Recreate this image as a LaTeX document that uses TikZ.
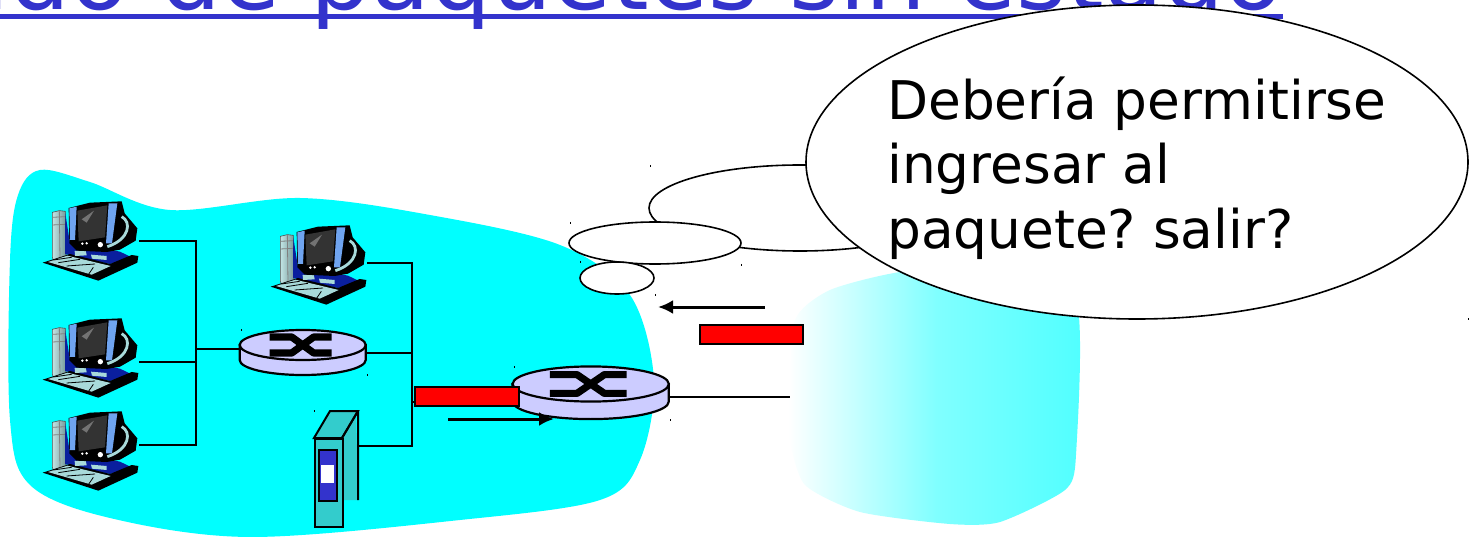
\documentclass[tikz,border=0pt]{standalone}
\usepackage{fontspec}
\setmainfont{DejaVu Sans}
\frenchspacing
\usetikzlibrary{arrows.meta}
\definecolor{titleblue}{HTML}{3333CC}
\definecolor{routerfill}{HTML}{CCCCFF}
\definecolor{serverteal}{HTML}{33CCCC}
\definecolor{netcyan}{HTML}{00FFFF}
\definecolor{netfade}{HTML}{50FFFF}
\definecolor{netfadeb}{HTML}{80FFFF}
\definecolor{pcblue}{HTML}{0A1F9E}
\definecolor{pcbezel}{HTML}{6FA4F0}
\definecolor{pcscreen}{HTML}{333333}
\definecolor{pcpale}{HTML}{A8DADA}
\tikzset{
  x=1pt,y=-1pt,
  wire/.style={draw=black,line width=2pt},
  packet/.style={draw=black,line width=2pt,fill=red},
  flow/.style={draw=black,line width=3pt,-{Latex[length=15pt,width=14pt]}},
  bubble/.style={draw=black,line width=1.6pt,fill=white},
  speck/.style={draw=black,line width=1pt},
  routeroutline/.style={draw=black,line width=2.2pt,fill=routerfill},
  pics/pcicon/.style={code={
    \begin{scope}[scale=1/3]
      % tower
      \path[left color=pcpale!70!white,right color=pcpale!70!black,draw=black!70,line width=.6pt]
        (97,97)--(118,92)--(136,94)--(138,228)--(100,240)--(97,232)--cycle;
      \draw[black!50,line width=.8pt] (118,92)--(120,235) (97,112)--(136,110) (97,135)--(136,133);
      % base
      \fill[pcblue] (136,100)--(150,190)--(250,205)--(300,215)--(335,232)--(270,252)--(135,222)--cycle;
      \fill[black] (68,248)--(150,222)--(215,238)--(270,252)--(335,225)--(355,228)--(352,248)--(235,302)--cycle;
      \fill[pcpale] (84,246)--(142,227)--(272,258)--(215,284)--cycle;
      \draw[black,line width=.8pt] (100,240)--(155,232) (115,248)--(180,238) (140,258)--(225,252) (205,284)--(220,262);
      \fill[pcpale] (164,213)--(197,210)--(200,226)--(165,228)--cycle (213,224)--(260,228)--(260,240)--(216,236)--cycle;
      % monitor
      \fill[black] (146,84)--(210,68)--(305,64)--(314,100)--(352,145)--(347,182)--(300,209)--(260,216)--(170,212)--(148,190)--cycle;
      \draw[pcpale,line width=2.8pt] (305,110) .. controls (335,125) and (330,178) .. (262,200);
      \fill[pcbezel] (148,85)--(170,80)--(165,180)--(150,180)--cycle (266,70)--(292,70)--(276,190)--(258,190)--cycle;
      \fill[pcscreen] (172,92)--(262,76)--(255,172)--(176,184)--cycle;
      \fill[black!55] (185,118)--(222,92)--(200,128)--cycle;
      \fill[white] (187,191) circle[radius=4] (200,190) circle[radius=4] (241,194) circle[radius=8];
    \end{scope}
  }},
  pics/routericon/.style={code={
    \path[routeroutline] (-63,0)--(-63,15)
      .. controls (-63,23.3) and (-34.8,30) .. (0,30)
      .. controls (34.8,30) and (63,23.3) .. (63,15)--(63,0)--cycle;
    \path[routeroutline] (0,0) ellipse[x radius=63,y radius=15];
    \draw[black,line width=7.2pt,miter limit=1]
      (-33,-8)--(-11,-8)--(11,8)--(29,8)
      (-33,8)--(-11,8)--(11,-8)--(29,-8);
  }},
}
\begin{document}
\begin{tikzpicture}
\clip (0,0) rectangle (1472,537);
\fill[white] (0,0) rectangle (1472,537);
% title
\node[anchor=base east,inner sep=0pt,text=titleblue,font=\fontsize{96.1}{96.1}\selectfont] (title) at (1283,10) {Filtrado de paquetes sin estado};
\fill[titleblue] (0,14.5) rectangle (1283,19.5);
% networks
\fill[netcyan] plot[smooth cycle,tension=.55] coordinates {
  (10,260) (18,195) (40,170) (90,182) (170,210) (300,198) (430,215) (560,245) (630,295)
  (654,380) (640,460) (600,500) (460,520) (250,537) (110,518) (30,485) (10,420)};
\path[left color=white,right color=netfade,middle color=netfadeb] plot[smooth cycle,tension=.4] coordinates {
  (790,400) (795,320) (830,290) (900,272) (1000,265) (1076,300) (1076,455) (1065,490) (1000,522)
  (950,524) (860,512) (805,485) (790,440)};
% hosts
\pic (pcA) at (20,180) {pcicon};
\pic (pcB) at (20,297) {pcicon};
\pic (pcC) at (20,390) {pcicon};
\pic (pcD) at (248,204) {pcicon};
% server
\fill[serverteal] (338,438)--(356,411)--(358,500)--(338,500)--cycle;
\draw[black,line width=2pt,fill=serverteal] (342,438)--(314,438)--(330,411)--(358,411)--cycle;
\draw[black,line width=2pt] (358,411)--(358,500) (342,438)--(358,411);
\node[draw=black,line width=2pt,fill=serverteal,minimum width=28pt,minimum height=88pt,inner sep=0pt,anchor=north west] (server) at (314,438) {};
\node[draw=black,line width=2pt,fill=titleblue,minimum width=18pt,minimum height=51pt,inner sep=0pt,anchor=north west] (serverpanel) at (318,449) {};
\fill[white] (321,465) rectangle (334,482.5);
% named line ends
\coordinate (pcAport) at (139,241);
\coordinate (pcBport) at (139,362);
\coordinate (pcCport) at (139,445);
\coordinate (pcDport) at (367,263);
\coordinate (busLtop) at (196,241);
\coordinate (busLbot) at (196,445);
\coordinate (busLmid) at (196,349);
\coordinate (busLpcB) at (196,362);
\coordinate (routerAwest) at (240,349);
\coordinate (routerAeast) at (367,353);
\coordinate (routerBeast) at (670,397);
\coordinate (busRtop) at (412,263);
\coordinate (busRbot) at (412,446);
\coordinate (busRmid) at (412,353);
\coordinate (busRpkt) at (412,402);
\coordinate (pktAwest) at (416,402);
\coordinate (serverport) at (358,446);
\coordinate (remoteport) at (790,397);
\coordinate (fromA) at (448,419);
\coordinate (toA) at (554,419);
\coordinate (fromB) at (765,307);
\coordinate (toB) at (658,307);
% wires
\draw[wire] (pcAport)--(busLtop)--(busLbot)--(pcCport);
\draw[wire] (pcBport)--(busLpcB);
\draw[wire] (busLmid)--(routerAwest);
\draw[wire] (pcDport)--(busRtop)--(busRbot)--(serverport);
\draw[wire] (routerAeast)--(busRmid);
\draw[wire] (busRpkt)--(pktAwest);
\draw[wire] (routerBeast)--(remoteport);
% routers
\pic (routerA) at (302.7,345) {routericon};
\pic[xscale=1.24,yscale=1.17] (routerB) at (590.7,384) {routericon};
% packets and flow arrows
\node[packet,minimum width=104pt,minimum height=19pt,inner sep=0pt,anchor=north west] (packetA) at (414,386) {};
\node[packet,minimum width=103pt,minimum height=19pt,inner sep=0pt,anchor=north west] (packetB) at (699,324) {};
\draw[flow] (fromA)--(toA);
\draw[flow] (fromB)--(toB);
% thought bubble
\path[bubble] (800,208) ellipse[x radius=151,y radius=43];
\path[bubble] (655,243) ellipse[x radius=86,y radius=21];
\path[bubble] (617,278) ellipse[x radius=37,y radius=16];
\path[bubble] (1137,162) ellipse[x radius=331,y radius=157];
\node[anchor=west,align=left,inner sep=0pt,font=\fontsize{53.3}{64.5}\selectfont] (question) at (887,168) {Debería permitirse\\ingresar al\\paquete? salir?};
% specks
\foreach \sx/\sy in {650/165,570/222,741/264,580/261,655/294,514/366,670/419,314/410,241/329,367/374,1468/318}
  \draw[speck] (\sx,\sy)--(\sx,\sy+2);
\end{tikzpicture}
\end{document}
